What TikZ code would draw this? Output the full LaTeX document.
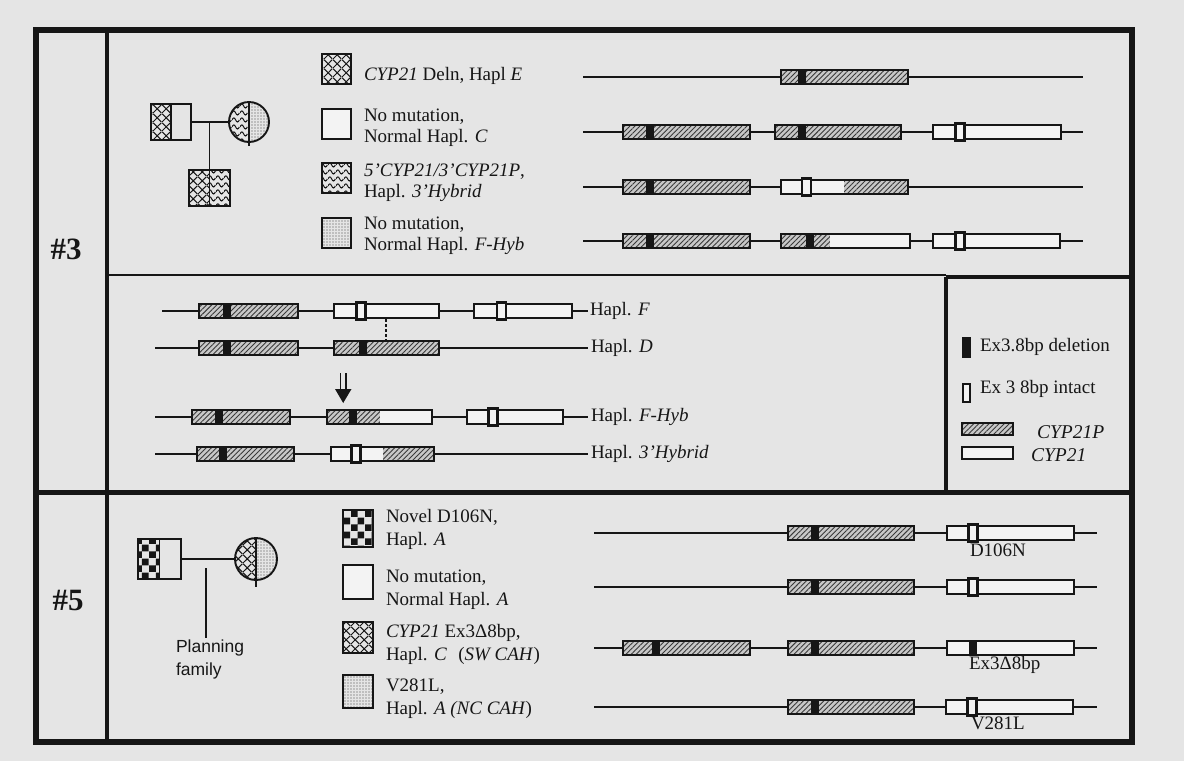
\documentclass[tikz,border=0pt]{standalone}
\usepackage{fontspec}
\setmainfont{Liberation Serif}
\newfontfamily\sansf{Liberation Sans}
\usetikzlibrary{patterns.meta}

\pgfdeclarepattern{
  name=waves, type=uncolored,
  bottom left={\pgfpointorigin}, top right={\pgfpoint{8pt}{6.5pt}},
  tile size={\pgfpoint{8pt}{6.5pt}},
  code={
    \pgfsetlinewidth{1.1pt}
    \pgfpathmoveto{\pgfpoint{0pt}{3.25pt}}
    \pgfpathcurveto{\pgfpoint{1.3pt}{6.1pt}}{\pgfpoint{2.7pt}{6.1pt}}{\pgfpoint{4pt}{3.25pt}}
    \pgfpathcurveto{\pgfpoint{5.3pt}{0.4pt}}{\pgfpoint{6.7pt}{0.4pt}}{\pgfpoint{8pt}{3.25pt}}
    \pgfusepath{stroke}
  }
}
\pgfdeclarepattern{
  name=checker, type=uncolored,
  bottom left={\pgfpointorigin}, top right={\pgfpoint{13.5pt}{13.5pt}},
  tile size={\pgfpoint{13.5pt}{13.5pt}},
  code={
    \pgfpathrectangle{\pgfpointorigin}{\pgfpoint{6.75pt}{6.75pt}}
    \pgfpathrectangle{\pgfpoint{6.75pt}{6.75pt}}{\pgfpoint{6.75pt}{6.75pt}}
    \pgfusepath{fill}
  }
}
\pgfdeclarepattern{
  name=xhatch, type=uncolored,
  bottom left={\pgfpointorigin}, top right={\pgfpoint{9pt}{9pt}},
  tile size={\pgfpoint{9pt}{9pt}},
  code={
    \pgfsetlinewidth{1.1pt}
    \pgfpathmoveto{\pgfpointorigin}\pgfpathlineto{\pgfpoint{9pt}{9pt}}
    \pgfpathmoveto{\pgfpoint{0pt}{9pt}}\pgfpathlineto{\pgfpoint{9pt}{0pt}}
    \pgfusepath{stroke}
  }
}

\definecolor{bg}{RGB}{229,229,229}
\definecolor{ink}{RGB}{22,22,22}
\definecolor{hatchbg}{RGB}{200,200,200}
\definecolor{wbox}{RGB}{243,243,243}

\newcommand\myL[3]{\draw[gl] (#1,#3) -- (#2,#3);}
\newcommand\myP[3]{\path[pfill] (#1,#3-7) rectangle (#2,#3+7);\draw[outl] (#1,#3-7) rectangle (#2,#3+7);}
\newcommand\myW[3]{\draw[outl,wfill] (#1,#3-7) rectangle (#2,#3+7);}
\newcommand\myPW[4]{\path[pfill] (#1,#4-7) rectangle (#2,#4+7);\path[wfill] (#2,#4-7) rectangle (#3,#4+7);\draw[outl] (#1,#4-7) rectangle (#3,#4+7);}
\newcommand\myWP[4]{\path[wfill] (#1,#4-7) rectangle (#2,#4+7);\path[pfill] (#2,#4-7) rectangle (#3,#4+7);\draw[outl] (#1,#4-7) rectangle (#3,#4+7);}
\newcommand\myD[2]{\fill[ink] (#1-4,#2-8) rectangle (#1+4,#2+8);}
\newcommand\myI[2]{\draw[imark] (#1-4.5,#2-8.5) rectangle (#1+4.5,#2+8.5);}

\begin{document}
\begin{tikzpicture}[x=1pt,y=-1pt,
  every node/.style={inner sep=0pt, outer sep=0pt, text=ink},
  txt/.style={font=\fontsize{19}{21}\selectfont, align=left, anchor=west},
  txtb/.style={font=\fontsize{19}{23}\selectfont, align=left, anchor=west},
  lab/.style={font=\fontsize{19}{21}\selectfont, anchor=west},
  num/.style={font=\fontsize{31}{31}\selectfont\bfseries},
  gl/.style={draw=ink, line width=1.3pt},
  pfill/.style={fill=hatchbg, postaction={pattern={Lines[angle=45,distance=3.6pt,line width=0.9pt]}, pattern color=ink!85}},
  wfill/.style={fill=wbox},
  outl/.style={draw=ink, line width=1.5pt},
  imark/.style={draw=ink, fill=wbox, line width=2.3pt},
  ped/.style={draw=ink, line width=1.9pt},
  xh/.style={pattern=xhatch, pattern color=ink},
  wv/.style={pattern=waves, pattern color=ink},
  dt/.style={pattern={Dots[distance=3pt,radius=0.65pt]}, pattern color=ink!80},
  ck/.style={pattern=checker, pattern color=ink},
]
\useasboundingbox (0,0) rectangle (1184,761);
\fill[bg] (0,0) rectangle (1184,761);

% ---------- frames ----------
\draw[ink, line width=2.6pt] (107,275) -- (946,275);
\draw[ink, line width=5pt] (36,492) -- (1132,492);
\draw[ink, line width=4.5pt] (946,277) -- (1132,277);
\draw[ink, line width=4.5pt] (946,277) -- (946,492);
\draw[ink, line width=4.5pt] (107,30) -- (107,742);
\draw[ink, line width=5.5pt] (36,30) rectangle (1132,742);

\node[num] (n3) at (66,249) {\#3};
\node[num] (n5) at (68,600) {\#5};

% ---------- #3 pedigree ----------
\path[xh] (151,104) rectangle (171,140);
\node[ped, rectangle, minimum width=40pt, minimum height=36pt] (f3) at (171,122) {};
\draw[ped] (f3.north) -- (f3.south);
\begin{scope}
  \clip (228,100) rectangle (249,146);
  \path[wv] (249,122) circle[radius=20pt];
\end{scope}
\begin{scope}
  \clip (249,100) rectangle (272,146);
  \path[dt] (249,122) circle[radius=20pt];
\end{scope}
\node[ped, circle, minimum size=40pt] (m3) at (249,122) {};
\draw[ped] (249,102) -- (249,146);
\path[xh] (189,170) rectangle (209.5,206);
\path[wv] (209.5,170) rectangle (230,206);
\node[ped, rectangle, minimum width=41pt, minimum height=36pt] (c3) at (209.5,188) {};
\draw[ped] (c3.north) -- (c3.south);
\draw[ped] (f3.east) -- (m3.west);
\coordinate (j3) at (209.5,122);
\draw[ped] (j3) -- (c3.north);

% ---------- #3 legend ----------
\draw[ped, xh] (322,54) rectangle (351,84);
\draw[ped, fill=wbox] (322,109) rectangle (351,139);
\draw[ped, wv] (322,163) rectangle (351,193);
\draw[ped, dt] (322,218) rectangle (351,248);
\node[txt] (l31) at (364,76) {\textit{CYP21} Deln, Hapl \textit{E}};
\node[txt] (l32) at (364,128) {No mutation,\\Normal Hapl. \textit{C}};
\node[txt] (l33) at (364,183) {\textit{5'CYP21/3'CYP21P},\\Hapl. \textit{3'Hybrid}};
\node[txt] (l34) at (364,236) {No mutation,\\Normal Hapl. \textit{F-Hyb}};

% ---------- #3 gene rows ----------
\myL{583}{1083}{77}
\myP{781}{908}{77}\myD{802}{77}
\myL{583}{1083}{132}
\myP{623}{750}{132}\myD{649.5}{132}
\myP{775}{901}{132}\myD{801.5}{132}
\myW{933}{1061}{132}\myI{960}{132}
\myL{583}{1083}{187}
\myP{623}{750}{187}\myD{649.5}{187}
\myWP{781}{844}{908}{187}\myI{806.5}{187}
\myL{583}{1083}{241}
\myP{623}{750}{241}\myD{649.5}{241}
\myPW{781}{830}{910}{241}\myD{810}{241}
\myW{933}{1060}{241}\myI{960}{241}

% ---------- recombination ----------
\myL{162}{588}{311}
\myP{199}{298}{311}\myD{226.5}{311}
\myW{334}{439}{311}\myI{361}{311}
\myW{474}{572}{311}\myI{501.5}{311}
\draw[ink, line width=2.2pt, dash pattern=on 2.5pt off 2.5pt] (386,319) -- (386,341);
\myL{155}{588}{348}
\myP{199}{298}{348}\myD{226.5}{348}
\myP{334}{439}{348}\myD{362.5}{348}
\draw[ink, line width=1.6pt] (340.5,373) -- (340.5,391) (346,373) -- (346,391);
\fill[ink] (335,389) -- (351.5,389) -- (343.2,403) -- cycle;
\myL{155}{588}{417}
\myP{192}{290}{417}\myD{219}{417}
\myPW{327}{380}{432}{417}\myD{352.5}{417}
\myW{467}{563}{417}\myI{493}{417}
\myL{155}{588}{454}
\myP{197}{294}{454}\myD{223}{454}
\myWP{331}{383}{434}{454}\myI{356}{454}
\node[lab] (hF) at (590,311) {Hapl. \textit{F}};
\node[lab] (hD) at (591,348) {Hapl. \textit{D}};
\node[lab] (hFH) at (591,417) {Hapl. \textit{F-Hyb}};
\node[lab] (h3H) at (591,454) {Hapl. \textit{3'Hybrid}};

% ---------- symbol legend ----------
\fill[ink] (962,337) rectangle (971,358);
\draw[ink, fill=wbox, line width=2.6pt] (963,384) rectangle (970,402);
\path[pfill] (962,423) rectangle (1013,435);
\draw[outl] (962,423) rectangle (1013,435);
\draw[outl, wfill] (962,447) rectangle (1013,459);
\node[lab] (k1) at (980,347) {Ex3.8bp deletion};
\node[lab] (k2) at (980,389) {Ex 3 8bp intact};
\node[lab, font=\fontsize{19.5}{21}\selectfont] (k3) at (1037,432) {\textit{CYP21P}};
\node[lab, font=\fontsize{19.5}{21}\selectfont] (k4) at (1031,455) {\textit{CYP21}};

% ---------- #5 pedigree ----------
\path[ck] (138,539) rectangle (159.5,579);
\node[ped, rectangle, minimum width=43pt, minimum height=40pt] (f5) at (159.5,559) {};
\draw[ped] (f5.north) -- (f5.south);
\begin{scope}
  \clip (233,535) rectangle (256,590);
  \path[xh] (256,559) circle[radius=21pt];
\end{scope}
\begin{scope}
  \clip (256,535) rectangle (280,590);
  \path[dt] (256,559) circle[radius=21pt];
\end{scope}
\node[ped, circle, minimum size=42pt] (m5) at (256,559) {};
\draw[ped] (256,538) -- (256,587);
\draw[ped] (f5.east) -- (m5.west);
\coordinate (p5a) at (206,568);
\coordinate (p5b) at (206,638);
\draw[ink, line width=1.8pt] (p5a) -- (p5b);
\node[font=\sansf\fontsize{17.5}{23}\selectfont, align=left, anchor=north west] (plan) at (176,640) {Planning\\family};

% ---------- #5 legend ----------
\draw[ped, ck] (343,510) rectangle (373,547);
\draw[ped, fill=wbox] (343,565) rectangle (373,599);
\draw[ped, xh] (343,622) rectangle (373,653);
\draw[ped, dt] (343,675) rectangle (373,708);
\node[txtb] (l51) at (386,529) {Novel D106N,\\Hapl. \textit{A}};
\node[txtb] (l52) at (386,590) {No mutation,\\Normal Hapl. \textit{A}};
\node[txtb] (l53) at (386,644) {\textit{CYP21} Ex3Δ8bp,\\Hapl. \textit{C}\hspace{0.6em}(\textit{SW CAH})};
\node[txtb] (l54) at (386,699) {V281L,\\Hapl. \textit{A (NC CAH})};

% ---------- #5 gene rows ----------
\myL{594}{1097}{533}
\myP{788}{914}{533}\myD{815}{533}
\myW{947}{1074}{533}\myI{973}{533}
\myL{594}{1097}{587}
\myP{788}{914}{587}\myD{815}{587}
\myW{947}{1074}{587}\myI{973}{587}
\myL{594}{1097}{648}
\myP{623}{750}{648}\myD{656}{648}
\myP{788}{914}{648}\myD{815}{648}
\myW{947}{1074}{648}\myD{972.5}{648}
\myL{594}{1097}{707}
\myP{788}{914}{707}\myD{815}{707}
\myW{946}{1073}{707}\myI{972}{707}
\node[lab] (g1) at (970,550) {D106N};
\node[lab] (g3) at (969,665) {Ex3Δ8bp};
\node[lab] (g4) at (971,723) {V281L};
\end{tikzpicture}
\end{document}
